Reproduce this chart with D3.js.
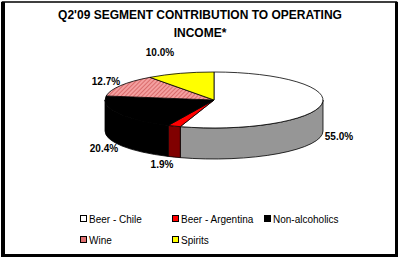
<!DOCTYPE html>
<html>
<head>
<meta charset="utf-8">
<script src="https://cdn.jsdelivr.net/npm/d3@7"></script>
<style>
  body { margin: 0; background: #fff; }
  text { font-family: "Liberation Sans", Arial, sans-serif; }
</style>
</head>
<body>
<svg id="chart" width="400" height="258"></svg>
<script>
// data
let segments = ["Beer - Chile", "Beer - Argentina", "Non-alcoholics", "Wine", "Spirits"];
let shares = [55.0, 1.9, 20.4, 12.7, 10.0];
let shareLabels = ["55.0%", "1.9%", "20.4%", "12.7%", "10.0%"];

let topColors = ["#ffffff", "#ff0000", "#000000", "url(#hatch)", "#ffff00"];
let sideColors = ["#969696", "#800000", "#000000", "#c06060", "#999900"];
let swatchColors = ["#ffffff", "#ff0000", "#000000", "#e07070", "#ffff00"];

let cx = 214, cy = 100, rx = 109, ry = 28, depth = 31;

let svg = d3.select("#chart");

let defs = svg.append("defs");
let pat = defs.append("pattern")
    .attr("id", "hatch")
    .attr("patternUnits", "userSpaceOnUse")
    .attr("width", 3).attr("height", 3)
    .attr("patternTransform", "rotate(45)");
pat.append("rect").attr("width", 3).attr("height", 3).attr("fill", "#f4a0a0");
pat.append("line").attr("x1", 0).attr("y1", 0).attr("x2", 0).attr("y2", 3)
    .attr("stroke", "#c84848").attr("stroke-width", 1.2);

// frame
svg.append("rect").attr("x", 2.5).attr("y", 2).attr("width", 394).attr("height", 253)
    .attr("fill", "none").attr("stroke", "#000").attr("stroke-width", 1.5);
svg.append("rect").attr("x", 1).attr("y", 2).attr("width", 4).attr("height", 254).attr("fill", "#000");
svg.append("rect").attr("x", 395).attr("y", 2).attr("width", 3).attr("height", 255).attr("fill", "#000");
svg.append("rect").attr("x", 1).attr("y", 254).attr("width", 397).attr("height", 3).attr("fill", "#000");

// title
let title = svg.append("text")
    .attr("text-anchor", "middle")
    .attr("font-size", 12).attr("font-weight", "bold");
title.append("tspan").attr("x", 200).attr("y", 19).text("Q2'09 SEGMENT CONTRIBUTION TO OPERATING");
title.append("tspan").attr("x", 200).attr("y", 37).text("INCOME*");

// pie angles (clockwise from 12 o'clock)
let pie = d3.pie().sort(null).value(d => d)(shares);

function pt(a, dy) {
  return [cx + rx * Math.sin(a), cy - ry * Math.cos(a) + (dy || 0)];
}

function topPath(d) {
  let p0 = pt(d.startAngle), p1 = pt(d.endAngle);
  let large = (d.endAngle - d.startAngle) > Math.PI ? 1 : 0;
  return `M${cx},${cy} L${p0[0]},${p0[1]} A${rx},${ry} 0 ${large} 1 ${p1[0]},${p1[1]} Z`;
}

function sidePath(d) {
  let a0 = Math.max(d.startAngle, Math.PI / 2);
  let a1 = Math.min(d.endAngle, 3 * Math.PI / 2);
  if (a1 <= a0) return null;
  let p0 = pt(a0), p1 = pt(a1), q0 = pt(a0, depth), q1 = pt(a1, depth);
  return `M${p0[0]},${p0[1]} A${rx},${ry} 0 0 1 ${p1[0]},${p1[1]}` +
         ` L${q1[0]},${q1[1]} A${rx},${ry} 0 0 0 ${q0[0]},${q0[1]} Z`;
}

let g = svg.append("g");

g.selectAll("path.side")
    .data(pie.filter(d => sidePath(d)))
    .enter().append("path")
    .attr("class", "side")
    .attr("d", sidePath)
    .attr("fill", d => sideColors[d.index])
    .attr("stroke", "#000").attr("stroke-width", 0.8);

g.selectAll("path.top")
    .data(pie)
    .enter().append("path")
    .attr("class", "top")
    .attr("d", topPath)
    .attr("fill", d => topColors[d.index])
    .attr("stroke", "#000").attr("stroke-width", 0.8);

// value labels
let labelPos = [[339, 140], [162, 168], [104, 152], [106, 85], [160, 56]];
svg.selectAll("text.val")
    .data(shareLabels)
    .enter().append("text")
    .attr("class", "val")
    .attr("x", (d, i) => labelPos[i][0])
    .attr("y", (d, i) => labelPos[i][1])
    .attr("text-anchor", "middle")
    .attr("font-size", 10).attr("font-weight", "bold")
    .text(d => d);

// legend
let legendPos = [[80, 219], [172, 219], [264, 219], [80, 240], [172, 240]];
let leg = svg.selectAll("g.leg")
    .data(segments)
    .enter().append("g")
    .attr("class", "leg")
    .attr("transform", (d, i) => `translate(${legendPos[i][0]},${legendPos[i][1]})`);
leg.append("rect")
    .attr("x", 0.5).attr("y", -3.5).attr("width", 6).attr("height", 6)
    .attr("fill", (d, i) => swatchColors[i])
    .attr("stroke", "#000").attr("stroke-width", 1);
leg.append("text")
    .attr("x", 9).attr("y", 3.5)
    .attr("font-size", 10)
    .text(d => d);
</script>
</body>
</html>
